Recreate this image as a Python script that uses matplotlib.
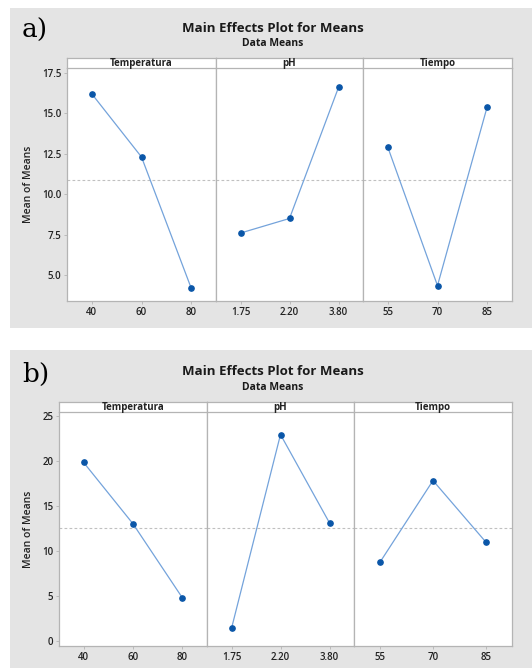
"""Main effects plots (Minitab style), two panels a) and b)."""
import matplotlib
matplotlib.use("Agg")
import matplotlib.pyplot as plt
from matplotlib.patches import Rectangle
import numpy as np

plt.rcParams["font.family"] = ["Open Sans", "DejaVu Sans"]

factors = ["Temperatura", "pH", "Tiempo"]
levels = [["40", "60", "80"], ["1.75", "2.20", "3.80"], ["55", "70", "85"]]

means_a = [[16.2, 12.3, 4.2], [7.6, 8.5, 16.6], [12.9, 4.35, 15.4]]
means_b = [[19.8, 13.0, 4.8], [1.4, 22.9, 13.1], [8.8, 17.8, 11.0]]

yticks_a = [5.0, 7.5, 10.0, 12.5, 15.0, 17.5]
yticks_b = [0, 5, 10, 15, 20, 25]

W, H = 532, 668
LINE = "#74a3db"
DOT = "#0a56a8"
GRID = "#b4b4b4"
BG = "#e4e4e4"

fig = plt.figure(figsize=(W / 100, H / 100), dpi=100)


def fx(x):
    return x / W


def fy(y):
    return 1 - y / H


def panel(label, means, yticks, ylim, yfmt, box, xs, title_y):
    # box: gray top/bottom, strip top/bottom, axis bottom (pixels from top)
    g_top, g_bot, strip_top, strip_bot, ax_bot = box
    fig.patches.append(Rectangle((fx(10), fy(g_bot)), fx(W - 10), (g_bot - g_top) / H,
                                 transform=fig.transFigure, facecolor=BG,
                                 edgecolor="none", zorder=-5))
    fig.text(fx(22), fy(title_y + 2), label, fontsize=19, family="DejaVu Serif",
             va="center", ha="left")
    fig.text(fx(273), fy(title_y), "Main Effects Plot for Means", fontsize=9.5,
             fontweight="bold", ha="center", va="center", color="#1a1a1a")
    fig.text(fx(273), fy(title_y + 15), "Data Means", fontsize=7.5,
             fontweight="bold", ha="center", va="center", color="#1a1a1a")
    grand = np.mean(means)
    for i, (fac, lev, vals) in enumerate(zip(factors, levels, means)):
        x0, x1 = xs[i], xs[i + 1]
        ax = fig.add_axes([fx(x0), fy(ax_bot), fx(x1 - x0), (ax_bot - strip_bot) / H])
        pos = np.arange(1, len(lev) + 1)
        ax.plot(pos, vals, color=LINE, lw=0.9, zorder=2)
        ax.plot(pos, vals, "o", color=DOT, ms=3.8, zorder=3)
        ax.axhline(grand, color="#c0c0c0", lw=0.8, ls=(0, (2.5, 2)), zorder=1)
        ax.set_xlim(0.5, len(lev) + 0.5)
        ax.set_ylim(*ylim)
        ax.set_xticks(pos)
        ax.set_xticklabels(lev)
        ax.set_yticks(yticks)
        ax.set_yticklabels([yfmt.format(v) for v in yticks])
        ax.tick_params(length=2, width=0.6, color=GRID, labelsize=7, pad=2)
        for lab in ax.get_xticklabels() + ax.get_yticklabels():
            lab.set_fontweight("semibold")
            lab.set_color("#222222")
        for s in ax.spines.values():
            s.set_color(GRID)
            s.set_linewidth(0.9)
        ax.spines["top"].set_visible(False)
        if i > 0:
            ax.tick_params(axis="y", left=False, labelleft=False)
        else:
            ax.set_ylabel("Mean of Means", fontsize=7.5, color="#222222", labelpad=6,
                          fontweight="semibold")
        # strip above the facet
        sx = fig.add_axes([fx(x0), fy(strip_bot), fx(x1 - x0), (strip_bot - strip_top) / H])
        sx.set_xticks([])
        sx.set_yticks([])
        for s in sx.spines.values():
            s.set_color(GRID)
            s.set_linewidth(0.9)
        sx.text(0.5, 0.45, fac, transform=sx.transAxes, ha="center", va="center",
                fontsize=7, fontweight="bold", color="#222222")


panel("a)", means_a, yticks_a, (3.4, 17.8), "{:.1f}",
      (8, 328, 58, 68, 301), [67, 216, 363, 512], 28)
panel("b)", means_b, yticks_b, (-0.55, 25.4), "{:.0f}",
      (350, 668, 402, 412, 646), [59, 207, 354, 512], 372)

fig.savefig("out.png", dpi=100)
